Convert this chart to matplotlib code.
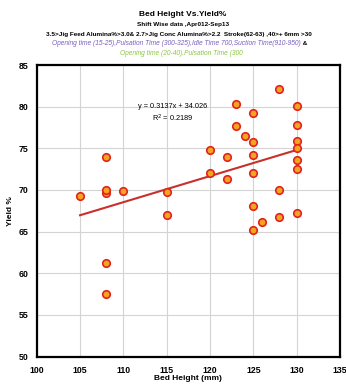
import numpy as np
import matplotlib.pyplot as plt

plt.rcParams['font.family'] = ['Liberation Sans', 'DejaVu Sans']

# bed height (mm) and yield (%) per shift
bed_height = [105, 108, 108, 108, 108, 108, 110, 115, 115,
              120, 120, 122, 122, 123, 123, 124,
              125, 125, 125, 125, 125, 125, 126,
              128, 128, 128,
              130, 130, 130, 130, 130, 130, 130]
yield_pct = [69.3, 73.9, 69.6, 70.0, 61.2, 57.5, 69.9, 69.7, 67.0,
             74.8, 72.0, 73.9, 71.3, 80.3, 77.7, 76.5,
             79.3, 75.8, 74.2, 72.0, 68.1, 65.2, 66.2,
             82.1, 70.0, 66.7,
             80.1, 77.8, 75.9, 75.0, 73.6, 72.5, 67.2]

# linear trend as reported on the chart
slope = 0.3137
intercept = 34.026
r_squared = 0.2189

x_ticks = [100, 105, 110, 115, 120, 125, 130, 135]
y_ticks = [50, 55, 60, 65, 70, 75, 80, 85]

fig = plt.figure(figsize=(3.46, 3.85), dpi=100)
ax = fig.add_axes([0.106, 0.074, 0.877, 0.757])

ax.grid(True, color='#d4d4d4', linewidth=0.8)
ax.set_axisbelow(True)

x_fit = np.array([min(bed_height), max(bed_height)])
ax.plot(x_fit, slope * x_fit + intercept, color='#c8302a', linewidth=1.5, zorder=2)

ax.plot(bed_height, yield_pct, linestyle='none', marker='o', markersize=5.4,
        markerfacecolor='#f2a51e', markeredgecolor='#e2221c', markeredgewidth=1.2, zorder=3)

ax.set_xlim(100, 135)
ax.set_ylim(50, 85)
ax.set_xticks(x_ticks)
ax.set_yticks(y_ticks)
ax.tick_params(length=0, labelsize=6.3)
ax.tick_params(axis='x', pad=7)
ax.tick_params(axis='y', pad=6)
for lab in ax.get_xticklabels() + ax.get_yticklabels():
    lab.set_fontweight('bold')
for sp in ax.spines.values():
    sp.set_linewidth(1.6)

ax.set_xlabel('Bed Height (mm)', fontsize=6, fontweight='bold', labelpad=0)
ax.set_ylabel('Yield %', fontsize=6, fontweight='bold', labelpad=3)

ax.text(115.7, 80.0, f'y = {slope}x + {intercept}', fontsize=5.3, ha='center', va='center')
ax.text(115.7, 78.6, f'R$^2$ = {r_squared}', fontsize=5.3, ha='center', va='center')

# header block
fig.text(0.528, 1 - 15 / 385, 'Bed Height Vs.Yield%', fontsize=6.0, fontweight='bold',
         ha='center', va='center')
fig.text(0.528, 1 - 24.3 / 385, 'Shift Wise data ,Apr012-Sep13', fontsize=4.6, fontweight='bold',
         ha='center', va='center')
fig.text(0.518, 1 - 34.3 / 385,
         '3.5>Jig Feed Alumina%>3.0& 2.7>Jig Conc Alumina%>2.2  Stroke(62-63) ,40>+ 6mm >30',
         fontsize=4.6, fontweight='bold', ha='center', va='center')
purple = fig.text(0.15, 1 - 43.7 / 385,
                  'Opening time (15-25),Pulsation Time (300-325),Idle Time 700,Suction Time(910-950)',
                  fontsize=4.8, style='italic', color='#7a5fc0', ha='left', va='center')
fig.canvas.draw()
bb = purple.get_window_extent()
fig.text(bb.x1 / fig.bbox.width, 1 - 43.7 / 385, ' &', fontsize=4.6, fontweight='bold',
         ha='left', va='center')
fig.text(0.525, 1 - 53.3 / 385, 'Opening time (20-40),Pulsation Time (300', fontsize=4.8,
         style='italic', color='#8cc63f', ha='center', va='center')

fig.savefig('out.png', dpi=100)
